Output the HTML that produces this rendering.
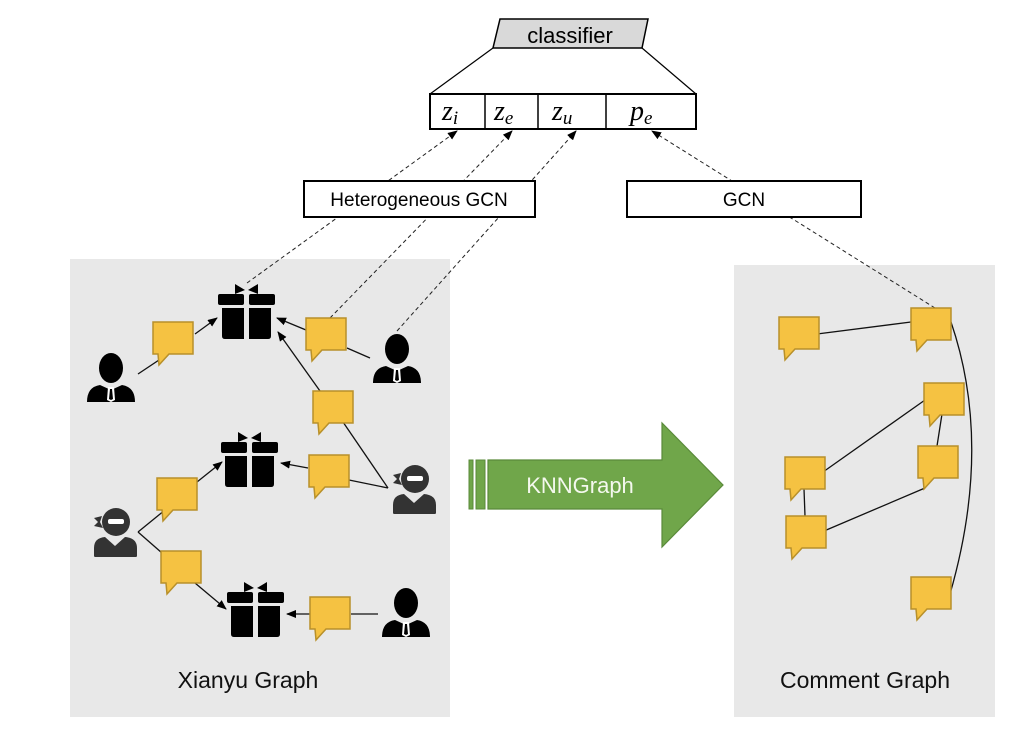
<!DOCTYPE html>
<html><head><meta charset="utf-8"><style>
html,body{margin:0;padding:0;background:#fff;}
svg{display:block;}
text{font-family:"Liberation Sans","DejaVu Sans",sans-serif;}
</style></head><body>
<svg width="1033" height="741" viewBox="0 0 1033 741" xmlns="http://www.w3.org/2000/svg">
<defs>
<marker id="ah" markerWidth="10" markerHeight="8" refX="9" refY="4" orient="auto" markerUnits="userSpaceOnUse">
<path d="M0,0 L10,4 L0,8 Z" fill="#000"/></marker>
<g id="cm"><path d="M0,0 H40 V32 H16 L6,43 L5,32 H0 Z" fill="#f5c242" stroke="#b8902a" stroke-width="1.5"/></g>
<g id="gift" fill="#000">
<path d="M17,2 L27,8 L17,12 Z M40,2 L30,8 L40,12 Z"/>
<rect x="0" y="12" width="26" height="11" rx="2"/><rect x="31" y="12" width="26" height="11" rx="2"/>
<path d="M4,26 H26 V57 H7 Q4,57 4,54 Z"/><path d="M31,26 H53 V54 Q53,57 50,57 H31 Z"/>
</g>
<g id="user" fill="#000">
<ellipse cx="25" cy="16" rx="12" ry="15"/>
<path d="M1,50 Q1,35 14,33 L25,38 L36,33 Q49,35 49,50 Z"/>
<path d="M22,35 L28,35 L29,48 L25,50 L21,48 Z" fill="#fff"/><path d="M24,37 L26,37 L27,47 L25,48 L23,47 Z" fill="#000"/>
</g>
<g id="ninja" fill="#333">
<circle cx="24" cy="16" r="14"/>
<path d="M2,12 L10,10 L8,16 L11,22 L2,20 L6,16 Z"/>
<rect x="16" y="13" width="16" height="5" rx="2" fill="#fff"/>
<path d="M2,50 V42 Q2,32 13,31 L23,40 L33,31 Q45,32 45,42 V50 Q45,51 43,51 H4 Q2,51 2,50 Z"/>
</g>
</defs>

<rect x="70" y="259" width="380" height="458" fill="#e8e8e8"/>
<rect x="734" y="265" width="261" height="452" fill="#e8e8e8"/>

<path d="M500,19 H648 L642,48 H493 Z" fill="#d9d9d9" stroke="#000" stroke-width="1.5"/>
<text x="570" y="43" font-size="22" text-anchor="middle">classifier</text>
<line x1="493" y1="48" x2="430" y2="94" stroke="#000" stroke-width="1.2"/>
<line x1="642" y1="48" x2="696" y2="94" stroke="#000" stroke-width="1.2"/>
<rect x="430" y="94" width="266" height="35" fill="#fff" stroke="#000" stroke-width="2"/>
<line x1="485" y1="94" x2="485" y2="129" stroke="#000" stroke-width="1.5"/>
<line x1="538" y1="94" x2="538" y2="129" stroke="#000" stroke-width="1.5"/>
<line x1="606" y1="94" x2="606" y2="129" stroke="#000" stroke-width="1.5"/>
<g font-style="italic" font-size="28">
<text x="442" y="120" style="font-family:'Liberation Serif',serif">z<tspan font-size="19" dy="4">i</tspan></text>
<text x="494" y="120" style="font-family:'Liberation Serif',serif">z<tspan font-size="19" dy="4">e</tspan></text>
<text x="552" y="120" style="font-family:'Liberation Serif',serif">z<tspan font-size="19" dy="4">u</tspan></text>
<text x="630" y="120" style="font-family:'Liberation Serif',serif">p<tspan font-size="19" dy="4">e</tspan></text>
</g>

<g stroke="#222" stroke-width="1" stroke-dasharray="4,3" fill="none">
<line x1="247" y1="283" x2="457" y2="131" marker-end="url(#ah)"/>
<line x1="330" y1="318" x2="512" y2="131" marker-end="url(#ah)"/>
<line x1="397" y1="331" x2="576" y2="131" marker-end="url(#ah)"/>
<line x1="935" y1="308" x2="652" y2="131" marker-end="url(#ah)"/>
</g>

<rect x="304" y="181" width="231" height="36" fill="#fff" stroke="#000" stroke-width="2"/>
<text x="419" y="206" font-size="19" text-anchor="middle">Heterogeneous GCN</text>
<rect x="627" y="181" width="234" height="36" fill="#fff" stroke="#000" stroke-width="2"/>
<text x="744" y="206" font-size="19" text-anchor="middle">GCN</text>

<g stroke="#111" stroke-width="1.3" fill="none">
<line x1="138" y1="374" x2="162" y2="358"/>
<line x1="195" y1="334" x2="217" y2="318" marker-end="url(#ah)"/>
<line x1="306" y1="330" x2="277" y2="318" marker-end="url(#ah)"/>
<line x1="347" y1="348" x2="370" y2="358"/>
<line x1="320" y1="391" x2="278" y2="332" marker-end="url(#ah)"/>
<line x1="343" y1="422" x2="388" y2="488"/>
<line x1="308" y1="468" x2="281" y2="463" marker-end="url(#ah)"/>
<line x1="349" y1="480" x2="388" y2="488"/>
<line x1="138" y1="532" x2="165" y2="510"/>
<line x1="197" y1="482" x2="222" y2="462" marker-end="url(#ah)"/>
<line x1="138" y1="532" x2="162" y2="553"/>
<line x1="195" y1="583" x2="226" y2="609" marker-end="url(#ah)"/>
<line x1="378" y1="614" x2="351" y2="614"/>
<line x1="310" y1="614" x2="287" y2="614" marker-end="url(#ah)"/>
</g>

<use href="#gift" x="218" y="282"/>
<use href="#gift" x="221" y="430"/>
<use href="#gift" x="227" y="580"/>
<use href="#user" x="86" y="352"/>
<use href="#user" x="372" y="333"/>
<use href="#user" x="381" y="587"/>
<use href="#ninja" x="391" y="463"/>
<use href="#ninja" x="92" y="506"/>

<use href="#cm" x="153" y="322"/>
<use href="#cm" x="306" y="318"/>
<use href="#cm" x="313" y="391"/>
<use href="#cm" x="309" y="455"/>
<use href="#cm" x="157" y="478"/>
<use href="#cm" x="161" y="551"/>
<use href="#cm" x="310" y="597"/>
<text x="248" y="688" font-size="23" text-anchor="middle" fill="#111">Xianyu Graph</text>

<rect x="469" y="460" width="4" height="49" fill="#70a64a" stroke="#5a8a3a"/>
<rect x="476" y="460" width="9" height="49" fill="#70a64a" stroke="#5a8a3a"/>
<path d="M488,460 H662 V423 L723,485 L662,547 V509 H488 Z" fill="#70a64a" stroke="#5a8a3a" stroke-width="1.2"/>
<text x="580" y="493" font-size="22" text-anchor="middle" fill="#f4f8ee">KNNGraph</text>

<g stroke="#111" stroke-width="1.3" fill="none">
<line x1="817" y1="334" x2="911" y2="322"/>
<line x1="823" y1="472" x2="925" y2="400"/>
<line x1="942" y1="414" x2="937" y2="446"/>
<line x1="804" y1="489" x2="805" y2="516"/>
<line x1="824" y1="531" x2="925" y2="488"/>
<path d="M951,322 Q993,445 950,594"/>
</g>
<use href="#cm" x="779" y="317"/>
<use href="#cm" x="911" y="308"/>
<use href="#cm" x="924" y="383"/>
<use href="#cm" x="918" y="446"/>
<use href="#cm" x="785" y="457"/>
<use href="#cm" x="786" y="516"/>
<use href="#cm" x="911" y="577"/>
<text x="865" y="688" font-size="23" text-anchor="middle" fill="#111">Comment Graph</text>
</svg>
</body></html>
